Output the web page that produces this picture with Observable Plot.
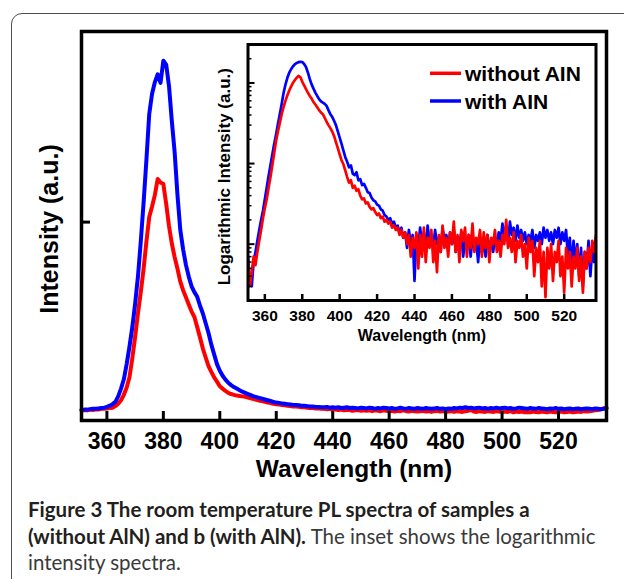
<!DOCTYPE html>
<html><head><meta charset="utf-8">
<script src="https://cdn.jsdelivr.net/npm/d3@7"></script>
<script src="https://cdn.jsdelivr.net/npm/@observablehq/plot@0.6"></script>
<style>
html,body{margin:0;padding:0;background:#fff;}
body{width:624px;height:579px;overflow:hidden;position:relative;font-family:"Liberation Sans",Arial,sans-serif;}
#card{position:absolute;left:11px;top:13px;width:700px;height:700px;border:1.5px solid #4d4d4d;border-radius:11px;box-sizing:border-box;}
#main,#inset,#over{position:absolute;}
#main{left:0;top:0;}
#inset{left:200px;top:40px;}
#over{left:0;top:0;}
#cap{position:absolute;left:28px;top:496px;font-family:"Lato","Open Sans",sans-serif;font-size:20.5px;line-height:26.7px;color:#231f20;white-space:nowrap;}
#cap b{font-weight:700;}
#cap .reg{font-weight:400;color:#3a3a3a;}
</style></head>
<body>
<div id="card"></div>
<div id="main"></div>
<div id="inset"></div>
<div id="cap"><b>Figure 3 The room temperature PL spectra of samples a</b><br><b>(without AlN) and b (with AlN).</b> <span class="reg">The inset shows the logarithmic</span><br><span class="reg">intensity spectra.</span></div>
<script>
const wavelength = [
351,352,353,354,355,356,357,358,359,360,
361,362,363,364,365,366,367,368,369,370,
371,372,373,374,375,376,377,378,379,380,
381,382,383,384,385,386,387,388,389,390,
391,392,393,394,395,396,397,398,399,400,
401,402,403,404,405,406,407,408,409,410,
411,412,413,414,415,416,417,418,419,420,
421,422,423,424,425,426,427,428,429,430,
431,432,433,434,435,436,437,438,439,440,
441,442,443,444,445,446,447,448,449,450,
451,452,453,454,455,456,457,458,459,460,
461,462,463,464,465,466,467,468,469,470,
471,472,473,474,475,476,477,478,479,480,
481,482,483,484,485,486,487,488,489,490,
491,492,493,494,495,496,497,498,499,500,
501,502,503,504,505,506,507,508,509,510,
511,512,513,514,515,516,517,518,519,520,
521,522,523,524,525,526,527,528,529,530,
531,532,533,534,535,536,537];

// Main panel (linear intensity, a.u.)
const mainRed = [
.026,.027,.026,.028,.027,.029,.028,.030,.030,.031,
.032,.033,.037,.043,.052,.066,.085,.111,.160,.215,
.275,.330,.390,.460,.523,.550,.580,.621,.612,.608,
.557,.500,.455,.420,.390,.357,.335,.317,.298,.280,
.266,.240,.213,.185,.162,.140,.125,.111,.100,.088,
.082,.076,.071,.068,.066,.064,.063,.062,.061,.059,
.057,.055,.053,.051,.050,.048,.046,.045,.043,.042,
.041,.040,.039,.038,.037,.036,.036,.035,.034,.034,
.033,.032,.032,.031,.031,.030,.030,.029,.030,.028,
.028,.027,.028,.026,.027,.027,.025,.026,.027,.025,
.026,.025,.026,.024,.026,.025,.024,.026,.025,.024,
.025,.023,.025,.024,.026,.024,.023,.025,.024,.023,
.024,.025,.023,.024,.022,.024,.025,.023,.024,.022,
.023,.024,.022,.024,.023,.022,.024,.025,.027,.023,
.022,.024,.023,.022,.024,.023,.022,.024,.023,.022,
.023,.022,.024,.021,.023,.022,.023,.021,.022,.021,
.023,.022,.021,.023,.022,.021,.023,.022,.021,.022,
.023,.021,.022,.023,.021,.022,.023,.022,.024,.023,
.024,.025,.026,.027,.029,.031,.033];
const mainBlue = [
.027,.028,.028,.029,.030,.030,.031,.032,.033,.035,
.038,.042,.048,.062,.082,.106,.145,.190,.240,.300,
.370,.460,.560,.670,.788,.840,.870,.890,.868,.925,
.915,.860,.770,.690,.580,.490,.440,.400,.370,.345,
.330,.318,.295,.275,.250,.225,.195,.170,.145,.128,
.115,.105,.097,.091,.086,.082,.078,.074,.071,.068,
.065,.062,.060,.058,.056,.054,.052,.050,.048,.046,
.045,.044,.043,.042,.041,.040,.040,.039,.038,.038,
.037,.036,.036,.035,.035,.034,.034,.035,.033,.034,
.033,.034,.032,.033,.034,.032,.033,.032,.031,.033,
.032,.031,.033,.032,.030,.032,.031,.033,.032,.031,
.032,.030,.031,.033,.031,.030,.032,.031,.030,.032,
.031,.030,.032,.031,.030,.031,.032,.030,.031,.029,
.031,.030,.032,.031,.033,.032,.034,.032,.033,.031,
.032,.033,.031,.032,.030,.032,.031,.033,.031,.032,
.033,.031,.032,.030,.031,.033,.032,.031,.030,.032,
.031,.030,.032,.031,.030,.029,.031,.030,.032,.030,
.031,.029,.030,.031,.029,.030,.031,.029,.030,.031,
.030,.029,.031,.030,.029,.030,.031];

// Inset (logarithmic intensity, a.u.)
const insetRed = [
.6,.3,.45,.7,.55,.8,1.1,1.5,2.1,2.8,
3.6,5.0,6.8,9.5,13.5,19,25,32,41,50,
60,70,80,90,100,108,116,122,118,104,
93,84,76,69,64,58,54,50,46,43,
41,37,33,30,27.5,25,22,18.5,15.5,13,
11,9.8,8.2,6.8,5.8,6.2,5.0,5.3,4.6,4.8,
4.0,3.6,3.7,3.2,3.3,2.9,2.7,2.8,2.5,2.3,
2.4,2.1,2.2,1.9,2.0,1.8,1.9,1.6,1.7,1.5,
1.6,1.3,1.5,1.2,1.4,1.0,1.3,.7,1.2,.9,
1.4,.5,1.3,.7,1.6,.6,1.2,.9,1.5,.6,
1.1,.45,1.3,.8,1.7,.9,1.2,.7,1.4,1.0,
1.9,.8,1.3,.6,1.5,1.1,1.6,.7,1.3,.9,
1.8,.8,1.2,1.0,1.5,.7,1.4,.9,1.3,.6,
1.2,1.0,1.5,.8,1.1,.7,1.3,1.0,2.0,.9,
1.2,.8,1.4,.6,1.1,.9,1.3,.7,1.0,.5,
1.2,.8,1.1,.4,.9,.6,1.1,.3,.8,.22,
.9,.5,1.0,.35,.8,.6,1.1,.4,.7,.25,
.9,.5,.8,.3,.7,.5,.9,.35,.7,.25,
.8,.5,.9,.6,1.1,.8,1.3];
const insetBlue = [
.7,.35,.3,.6,.8,1.1,1.5,2.0,2.6,3.6,
5.0,7.0,9.5,13,17.5,23,31,41,55,75,
95,115,133,148,160,170,177,181,183,182,
172,158,135,112,96,85,76,69,63,59,
57,55,52,46,41,38,34,30,25,21,
17.5,14.5,12,10.5,9,9.5,7.5,7.2,7.8,6.2,
6.4,5.4,5.6,5.0,4.4,4.3,3.8,3.5,3.4,3.1,
3.0,2.7,2.6,2.3,2.2,2.0,2.1,1.8,1.9,1.6,
1.7,1.4,1.6,1.2,1.4,.9,1.5,1.0,1.3,.35,
1.3,.9,1.6,1.0,1.4,.8,1.7,1.1,1.3,.9,
1.5,1.0,1.2,.8,1.6,1.1,1.3,.9,1.4,1.0,
1.5,.8,1.2,1.0,1.4,.7,1.1,.9,1.3,.7,
1.2,.9,1.1,.6,1.2,.8,1.0,.7,1.3,.9,
1.1,.8,1.2,1.0,1.4,1.1,1.8,1.2,1.7,1.0,
1.9,1.3,1.6,1.1,1.7,1.2,1.5,1.1,1.4,1.0,
1.3,1.1,1.5,.9,1.3,1.1,1.4,1.0,1.6,1.2,
1.5,1.1,1.4,1.0,1.5,1.2,1.6,1.0,1.4,1.1,
1.5,.7,1.2,.5,1.1,.6,1.0,.4,.9,.3,
.8,.5,1.1,.4,.9,.6,1.2];

const xTickLabels = [360,380,400,420,440,460,480,500,520];
const mainYTicks = [0.51];
const insetMajorTicks = [1,10,100];
const insetMinorTicks = [0.3,0.4,0.5,0.6,0.7,0.8,0.9,2,3,4,5,6,7,8,9,20,30,40,50,60,70,80,90,200];
const seriesNames = ["without AIN","with AIN"];
const seriesColors = ["#ff0000","#0000ff"];

const FONT = "Liberation Sans, Arial, sans-serif";
const mainData = wavelength.map((w,i)=>({wl:w, red:mainRed[i], blue:mainBlue[i]}));
const insetData = wavelength.map((w,i)=>({wl:w, red:insetRed[i], blue:insetBlue[i]}));

const mainPlot = Plot.plot({
  width: 624, height: 490,
  marginLeft: 81, marginRight: 18, marginTop: 31, marginBottom: 70,
  x: {domain: [351, 537], label: null},
  y: {domain: [0, 1], label: null},
  style: {fontFamily: FONT, fontSize: "23px", fontWeight: "bold", color: "#000", background: "transparent", overflow: "visible"},
  marks: [
    Plot.line(mainData, {x: "wl", y: "red", stroke: seriesColors[0], strokeWidth: 4}),
    Plot.line(mainData, {x: "wl", y: "blue", stroke: seriesColors[1], strokeWidth: 4}),
    Plot.axisX({ticks: xTickLabels, tickSize: 9, dy: -9, strokeWidth: 3, tickFormat: () => "", label: null}),
    Plot.axisX({ticks: xTickLabels, tickSize: 0, tickPadding: 12, fontSize: 23, fontWeight: "bold", tickFormat: d => String(d), label: null}),
    Plot.axisY({ticks: mainYTicks, tickSize: 9, dx: 9, strokeWidth: 3, tickFormat: () => "", label: null}),
    Plot.frame({strokeWidth: 3.5})
  ]
});
document.getElementById("main").append(mainPlot);

const insetPlot = Plot.plot({
  width: 410, height: 310,
  marginLeft: 47.5, marginRight: 14.5, marginTop: 4, marginBottom: 50,
  clip: true,
  x: {domain: [351, 537], label: null},
  y: {type: "log", domain: [0.2, 300], label: null},
  style: {fontFamily: FONT, fontSize: "15.5px", fontWeight: "bold", color: "#000", background: "transparent", overflow: "visible"},
  marks: [
    Plot.line(insetData, {x: "wl", y: "blue", stroke: seriesColors[1], strokeWidth: 2.7}),
    Plot.line(insetData, {x: "wl", y: "red", stroke: seriesColors[0], strokeWidth: 2.7}),
    Plot.axisX({ticks: xTickLabels, tickSize: 6, dy: -6, strokeWidth: 2.5, tickFormat: () => "", label: null}),
    Plot.axisX({ticks: xTickLabels, tickSize: 0, tickPadding: 9, fontSize: 15.5, fontWeight: "bold", tickFormat: d => String(d), label: null}),
    Plot.axisY({ticks: insetMajorTicks, tickSize: 7, dx: 7, strokeWidth: 2, tickFormat: () => "", label: null}),
    Plot.axisY({ticks: insetMinorTicks, tickSize: 4, dx: 4, strokeWidth: 1.5, tickFormat: () => "", label: null}),
    Plot.frame({strokeWidth: 3})
  ]
});
document.getElementById("inset").append(insetPlot);

// Titles and legend overlay (text as real text)
const svg = d3.select("body").append("svg").attr("id","over").attr("width",624).attr("height",579)
  .style("font-family", FONT).style("font-weight","bold").style("pointer-events","none");
svg.append("text").attr("x",354).attr("y",477).attr("text-anchor","middle").attr("font-size",24.5).text("Wavelength (nm)");
svg.append("text").attr("transform","translate(58,229) rotate(-90)").attr("text-anchor","middle").attr("font-size",25).text("Intensity (a.u.)");
svg.append("text").attr("x",422).attr("y",341).attr("text-anchor","middle").attr("font-size",16).text("Wavelength (nm)");
svg.append("text").attr("transform","translate(229.7,176.7) rotate(-90)").attr("text-anchor","middle").attr("font-size",17).text("Logarithmic Intensity (a.u.)");
const legendY = [73.3, 101];
seriesNames.forEach((name, i) => {
  svg.append("line").attr("x1",430).attr("x2",461).attr("y1",legendY[i]).attr("y2",legendY[i])
    .attr("stroke",seriesColors[i]).attr("stroke-width",3.5);
  svg.append("text").attr("x",465).attr("y",legendY[i]+7.5).attr("font-size",21).text(name);
});
</script>
</body></html>
